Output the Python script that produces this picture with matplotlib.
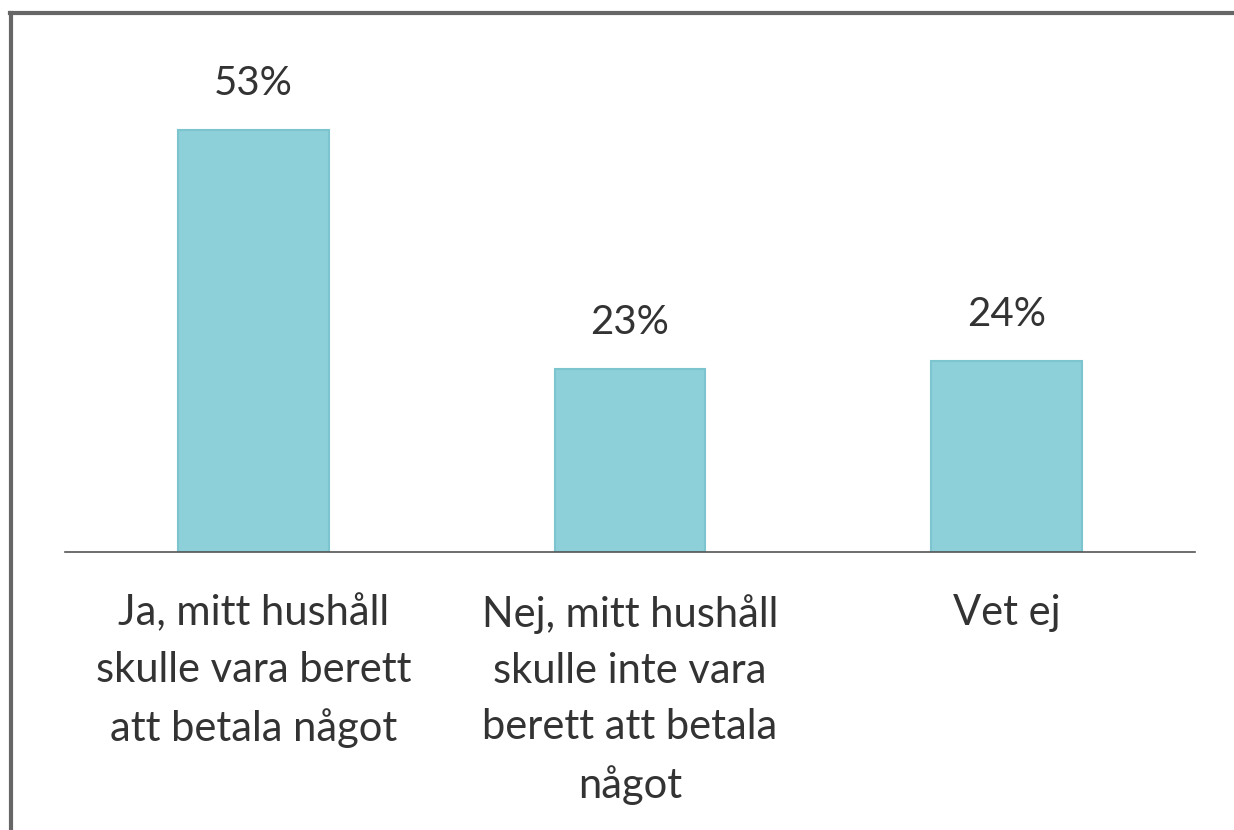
import matplotlib.pyplot as plt
from matplotlib.lines import Line2D

categories = [
    "Ja, mitt hushåll\nskulle vara berett\natt betala något",
    "Nej, mitt hushåll\nskulle inte vara\nberett att betala\nnågot",
    "Vet ej",
]
values = [53, 23, 24]
value_labels = ["53%", "23%", "24%"]

W, H = 1234, 830
plt.rcParams['font.family'] = ['Lato', 'DejaVu Sans']

fig = plt.figure(figsize=(W / 100, H / 100), dpi=100)
base_y = 552
top_y = 20
ax = fig.add_axes([65 / W, 1 - base_y / H, 1130 / W, (base_y - top_y) / H])

x = range(len(values))
ax.bar(x, values, width=0.4, color='#8dd0da', edgecolor='#7cc4ce', linewidth=1.5)
ax.set_xlim(-0.5, 2.5)
ax.set_ylim(0, (base_y - top_y) / 7.97)

for xi, v, lab in zip(x, values, value_labels):
    ax.annotate(lab, (xi, v), xytext=(0, 28), textcoords='offset pixels',
                ha='center', va='bottom', fontsize=29, color='#333333')

for xi, cat in zip(x, categories):
    ax.annotate(cat, (xi, 0), xytext=(0, -42), textcoords='offset pixels',
                ha='center', va='top', fontsize=30, color='#333333',
                linespacing=1.58)

for s in ['top', 'right', 'left']:
    ax.spines[s].set_visible(False)
ax.spines['bottom'].set_color('#555555')
ax.spines['bottom'].set_linewidth(1.2)
ax.set_xticks([])
ax.set_yticks([])

# outer frame (top and left edges)
fig.add_artist(Line2D([10 / W, 1], [1 - 13 / H, 1 - 13 / H], color='#666666', linewidth=3))
fig.add_artist(Line2D([11 / W, 11 / W], [0, 1 - 13 / H], color='#666666', linewidth=3))

fig.savefig('out.png', dpi=100, facecolor='white')
